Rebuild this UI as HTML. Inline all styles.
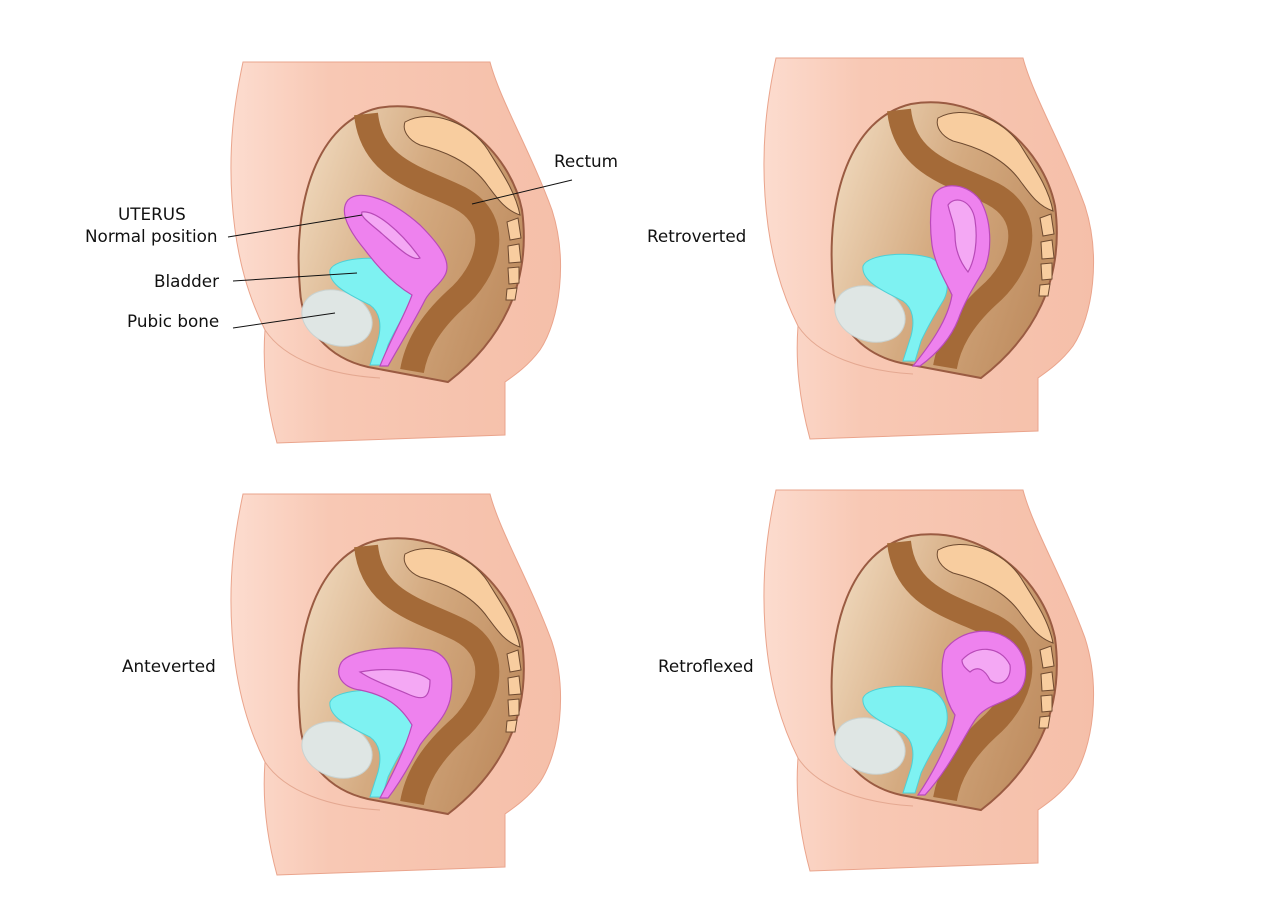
<!DOCTYPE html>
<html><head><meta charset="utf-8"><style>
html,body{margin:0;padding:0;background:#fff;}
svg{display:block;}
text{font-family:"DejaVu Sans","Liberation Sans",sans-serif;font-size:16.8px;fill:#111;}
</style></head><body>
<svg width="1280" height="905" viewBox="0 0 1280 905" xmlns="http://www.w3.org/2000/svg">
<defs>
<linearGradient id="skin" x1="0" x2="1"><stop offset="0" stop-color="#fcdccf"/><stop offset="0.3" stop-color="#f8c8b4"/><stop offset="1" stop-color="#f5bfa9"/></linearGradient>
<linearGradient id="pel" x1="0" x2="1" y1="0.2" y2="0.6"><stop offset="0" stop-color="#f0d9bd"/><stop offset="0.5" stop-color="#d4aa80"/><stop offset="1" stop-color="#bf8d60"/></linearGradient>
<g id="base">
<path d="M243,62 L490,62 C500,100 530,150 552,210 C568,260 560,320 540,350 C528,366 515,375 505,382 L505,435 L277,443 C268,410 262,370 265,330 C250,300 236,260 232,200 C228,140 236,95 243,62 Z" fill="url(#skin)" stroke="#eaa48c" stroke-width="1"/>
<path d="M265,330 C285,360 330,375 380,378" fill="none" stroke="#e4a891" stroke-width="1"/>
<path d="M300,290 C292,200 318,122 378,108 C448,96 510,150 522,210 C532,285 500,342 448,382 L368,367 C328,358 302,328 300,290 Z" fill="url(#pel)" stroke="#9a5b42" stroke-width="2"/>
<path d="M366,114 C372,170 420,178 460,198 C505,222 488,272 455,300 C428,325 416,348 412,371" fill="none" stroke="#a46a38" stroke-width="24"/>
<path d="M405,122 C430,108 470,122 488,150 C500,170 515,190 520,215 C505,210 497,198 488,186 C470,160 440,150 420,145 C408,140 402,130 405,122 Z" fill="#f8cd9f" stroke="#6e4a30" stroke-width="1"/>
<g fill="#f8cd9f" stroke="#6e4a30" stroke-width="1">
<path d="M507,222 L518,218 L521,238 L510,240 Z"/>
<path d="M508,246 L519,244 L521,262 L509,263 Z"/>
<path d="M508,268 L519,267 L519,283 L509,284 Z"/>
<path d="M507,289 L517,288 L515,300 L506,300 Z"/>
</g>
<ellipse cx="337" cy="318" rx="36" ry="27" transform="rotate(20 337 318)" fill="#dfe6e4" stroke="#c9d2d0"/>
<path d="M330,270 C335,258 375,255 398,262 C415,270 418,292 410,305 C402,318 395,330 388,345 L382,365 L370,365 L378,340 C382,325 380,312 370,305 C350,295 328,285 330,270 Z" fill="#7ef2f2" stroke="#4dd0d6" stroke-width="1"/>
</g>
</defs>

<use href="#base"/>
<g fill="#ee82ee" stroke="#b84ab8" stroke-width="1.2">
<path d="M348,200 C360,188 392,200 420,225 C440,245 452,262 445,275 C440,285 430,290 425,300 C415,320 400,345 388,366 L380,366 C390,340 405,315 412,295 C395,285 380,270 365,250 C350,232 338,212 348,200 Z"/>
<path d="M362,212 C375,210 400,230 420,258 C412,262 395,245 380,232 C368,222 360,216 362,212 Z" fill="#f4a8f4"/>
</g>
<use href="#base" transform="translate(533,-4)"/>
<g fill="#ee82ee" stroke="#b84ab8" stroke-width="1.2">
<path d="M932,200 C935,182 965,180 980,200 C992,220 992,250 985,268 C975,285 965,300 958,320 C950,340 935,355 920,366 L913,366 C930,345 948,320 952,295 C945,280 935,265 932,245 C930,230 930,215 932,200 Z"/>
<path d="M948,205 C955,195 972,200 975,220 C978,240 975,260 968,272 C960,262 955,250 955,235 C955,225 950,215 948,205 Z" fill="#f4a8f4"/>
</g>
<use href="#base" transform="translate(0,432)"/>
<g fill="#ee82ee" stroke="#b84ab8" stroke-width="1.2">
<path d="M340,665 C345,650 390,645 430,650 C450,655 455,675 450,700 C445,720 430,730 420,745 C410,765 398,785 388,798 L380,798 C392,775 405,750 412,725 C400,705 385,695 360,690 C345,688 335,678 340,665 Z"/>
<path d="M360,672 C380,668 415,668 430,680 C430,700 422,700 410,695 C395,688 375,682 360,672 Z" fill="#f4a8f4"/>
</g>
<use href="#base" transform="translate(533,428)"/>
<g fill="#ee82ee" stroke="#b84ab8" stroke-width="1.2">
<path d="M945,650 C960,630 990,625 1010,640 C1030,655 1030,685 1015,695 C1000,705 985,705 975,720 C962,740 948,770 925,795 L918,795 C935,770 950,740 955,715 C945,700 938,672 945,650 Z"/>
<path d="M962,660 C975,645 1000,645 1010,665 C1012,680 1000,688 990,680 C985,670 978,665 970,672 C965,668 962,665 962,660 Z" fill="#f4a8f4"/>
</g>

<text x="118" y="220">UTERUS</text>
<text x="85" y="242">Normal position</text>
<line x1="228" y1="237" x2="362" y2="215" stroke="#111" stroke-width="1"/>
<text x="154" y="287">Bladder</text>
<line x1="233" y1="281" x2="357" y2="273" stroke="#111" stroke-width="1"/>
<text x="127" y="327">Pubic bone</text>
<line x1="233" y1="328" x2="335" y2="313" stroke="#111" stroke-width="1"/>
<text x="554" y="167">Rectum</text>
<line x1="572" y1="180" x2="472" y2="204" stroke="#111" stroke-width="1"/>
<text x="647" y="242">Retroverted</text>
<text x="122" y="672">Anteverted</text>
<text x="658" y="672">Retroflexed</text>
</svg>
</body></html>
